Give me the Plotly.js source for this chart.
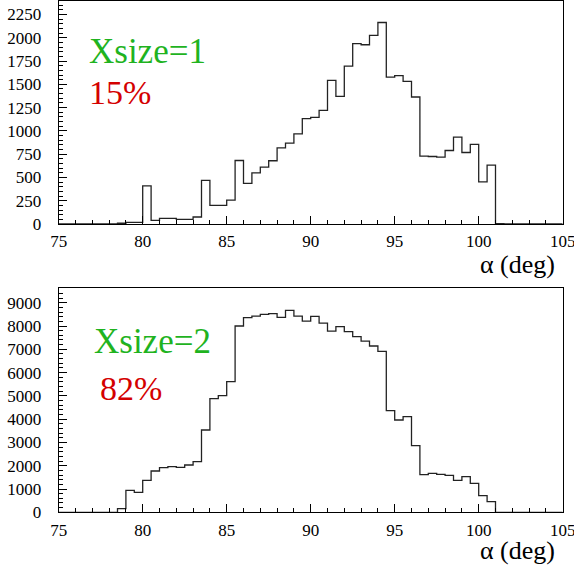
<!DOCTYPE html>
<html>
<head>
<meta charset="utf-8">
<script src="https://cdn.plot.ly/plotly-3.0.1.min.js"></script>
<style>html,body{margin:0;padding:0;background:#fff;}</style>
</head>
<body>
<div id="chart" style="width:574px;height:567px;"></div>
<script>
// Histogram binning: 60 bins of 0.5 deg from 75 to 105
const binStart = 75;
const binWidth = 0.5;

// Top panel: Xsize=1 (15%) counts per bin
const countsXsize1 = [
  0, 0, 0, 0, 0, 0, 0, 8, 18, 18,
  410, 40, 60, 60, 50, 50, 75, 468, 200, 200,
  257, 682, 436, 550, 611, 679, 818, 868, 968, 1132,
  1146, 1221, 1543, 1371, 1696, 1936, 1925, 2025, 2164, 1578,
  1593, 1532, 1364, 728, 725, 718, 789, 932, 768, 854,
  453, 632, 3, 0, 0, 0, 0, 0, 0, 0
];

// Bottom panel: Xsize=2 (82%) counts per bin
const countsXsize2 = [
  0, 0, 0, 0, 0, 0, 0, 157, 944, 859,
  1374, 1774, 1917, 1960, 1932, 2032, 2175, 3535, 4880, 5008,
  5609, 8000, 8357, 8429, 8500, 8529, 8371, 8672, 8429, 8214,
  8414, 8128, 7785, 7971, 7756, 7541, 7355, 7141, 6912, 4365,
  3964, 4107, 2862, 1617, 1674, 1631, 1588, 1374, 1531, 1245,
  716, 458, 0, 0, 0, 0, 0, 0, 0, 0
];

const panelLabels = ["Xsize=1", "Xsize=2"];
const panelFractions = ["15%", "82%"];
const xTitle = "α (deg)";
const xTickVals = [75, 80, 85, 90, 95, 100, 105];

function edges(n) {
  const e = [];
  for (let i = 0; i <= n; i++) e.push(binStart + i * binWidth);
  return e;
}
function stepY(c) { return c.concat([c[c.length - 1]]); }

const W = 574, H = 567;
const px = x => x / W;
const py = y => 1 - y / H;
const SERIF = 'Liberation Serif';

const lineStyle = {color: '#222', width: 1.3, shape: 'hv'};
const traces = [
  {x: edges(countsXsize1.length), y: stepY(countsXsize1), type: 'scatter', mode: 'lines',
   line: lineStyle, xaxis: 'x', yaxis: 'y', hoverinfo: 'skip'},
  {x: edges(countsXsize2.length), y: stepY(countsXsize2), type: 'scatter', mode: 'lines',
   line: lineStyle, xaxis: 'x2', yaxis: 'y2', hoverinfo: 'skip'}
];

const tickFont = {family: SERIF, size: 17, color: '#000'};
function xAxis(anchor) {
  return {
    anchor: anchor, domain: [px(58.7), px(562.7)], range: [75, 105.0001],
    showline: true, mirror: true, linecolor: '#000', linewidth: 1,
    showgrid: false, zeroline: false,
    ticks: 'inside', tickmode: 'array', tickvals: xTickVals, ticktext: xTickVals.map(String),
    ticklen: 8, tickcolor: '#000', tickwidth: 1,
    minor: {ticks: 'inside', tick0: 75, dtick: 1, ticklen: 4, tickcolor: '#000', tickwidth: 1, showgrid: false},
    tickfont: tickFont, ticklabelstandoff: 2, ticklabeloverflow: 'allow'
  };
}
function yAxis(anchor, domain, range, dtick, minorDtick) {
  return {
    anchor: anchor, domain: domain, range: range,
    showline: true, mirror: true, linecolor: '#000', linewidth: 1,
    showgrid: false, zeroline: false,
    ticks: 'inside', tick0: 0, dtick: dtick, ticklen: 8, tickcolor: '#000', tickwidth: 1,
    minor: {ticks: 'inside', dtick: minorDtick, ticklen: 4, tickcolor: '#000', tickwidth: 1, showgrid: false},
    tickfont: tickFont, ticklabelstandoff: 13, ticklabeloverflow: 'allow'
  };
}

const annFont = (size, color) => ({family: SERIF, size: size, color: color});
const green = '#1fb31f', red = '#d40000';
const annotations = [
  {text: panelLabels[0], x: px(87), y: py(51), xref: 'paper', yref: 'paper', xanchor: 'left', yanchor: 'middle', showarrow: false, font: annFont(35, green)},
  {text: panelFractions[0], x: px(87), y: py(93), xref: 'paper', yref: 'paper', xanchor: 'left', yanchor: 'middle', showarrow: false, font: annFont(34, red)},
  {text: panelLabels[1], x: px(92), y: py(341), xref: 'paper', yref: 'paper', xanchor: 'left', yanchor: 'middle', showarrow: false, font: annFont(35, green)},
  {text: panelFractions[1], x: px(98), y: py(388), xref: 'paper', yref: 'paper', xanchor: 'left', yanchor: 'middle', showarrow: false, font: annFont(34, red)},
  {text: xTitle, x: px(557), y: py(265), xref: 'paper', yref: 'paper', xanchor: 'right', yanchor: 'middle', showarrow: false, font: annFont(26, '#000')},
  {text: xTitle, x: px(557), y: py(550), xref: 'paper', yref: 'paper', xanchor: 'right', yanchor: 'middle', showarrow: false, font: annFont(26, '#000')}
];

const layout = {
  width: W, height: H,
  margin: {l: 0, r: 0, t: 0, b: 0, pad: 0},
  paper_bgcolor: '#fff', plot_bgcolor: '#fff',
  showlegend: false,
  font: {family: SERIF},
  xaxis: xAxis('y'),
  yaxis: yAxis('x', [py(224), py(0.5)], [0, 2400], 250, 50),
  xaxis2: xAxis('y2'),
  yaxis2: yAxis('x2', [py(512.3), py(288.3)], [0, 9620], 1000, 200),
  annotations: annotations
};

Plotly.newPlot('chart', traces, layout, {displayModeBar: false, staticPlot: true});
</script>
</body>
</html>
